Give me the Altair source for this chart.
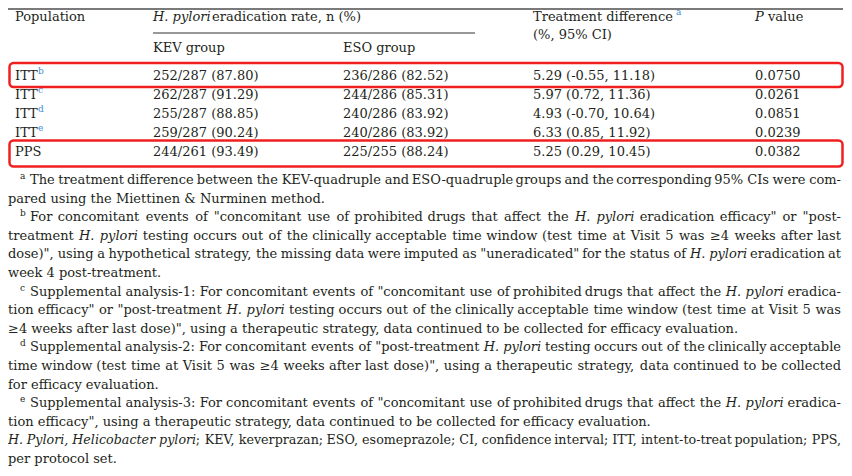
import altair as alt
import pandas as pd

FONT = "DejaVu Serif"
TEXT_COLOR = "#231f20"
SUP_COLOR = "#3b8fd6"
RED = "#f02020"

# ---------------- table values ----------------
populations = ["ITT", "ITT", "ITT", "ITT", "PPS"]
pop_marks = ["b", "c", "d", "e", ""]
kev_rates = ["252/287 (87.80)", "262/287 (91.29)", "255/287 (88.85)", "259/287 (90.24)", "244/261 (93.49)"]
eso_rates = ["236/286 (82.52)", "244/286 (85.31)", "240/286 (83.92)", "240/286 (83.92)", "225/255 (88.24)"]
differences = ["5.29 (-0.55, 11.18)", "5.97 (0.72, 11.36)", "4.93 (-0.70, 10.64)", "6.33 (0.85, 11.92)", "5.25 (0.29, 10.45)"]
p_values = ["0.0750", "0.0261", "0.0851", "0.0239", "0.0382"]

header_population = "Population"
header_rate_italic = "H. pylori"
header_rate_rest = "eradication rate, n (%)"
header_kev = "KEV group"
header_eso = "ESO group"
header_diff_1 = "Treatment difference"
header_diff_mark = "a"
header_diff_2 = "(%, 95% CI)"
header_p_italic = "P"
header_p_rest = "value"

# ---------------- footnotes ----------------
# each line: list of (text, style) pieces, n = normal, i = italic
footnote_markers = ["a", "", "b", "", "", "", "c", "", "", "d", "", "", "e", "", "", ""]
footnote_lines = [
    [("The treatment difference between the KEV-quadruple and ESO-quadruple groups and the corresponding 95% CIs were com-", "n")],
    [("pared using the Miettinen & Nurminen method.", "n")],
    [("For concomitant events of \"concomitant use of prohibited drugs that affect the ", "n"), ("H. pylori", "i"), (" eradication efficacy\" or \"post-", "n")],
    [("treatment ", "n"), ("H. pylori", "i"), (" testing occurs out of the clinically acceptable time window (test time at Visit 5 was \u22654 weeks after last", "n")],
    [("dose)\", using a hypothetical strategy, the missing data were imputed as \"uneradicated\" for the status of ", "n"), ("H. pylori", "i"), (" eradication at", "n")],
    [("week 4 post-treatment.", "n")],
    [("Supplemental analysis-1: For concomitant events of \"concomitant use of prohibited drugs that affect the ", "n"), ("H. pylori", "i"), (" eradica-", "n")],
    [("tion efficacy\" or \"post-treatment ", "n"), ("H. pylori", "i"), (" testing occurs out of the clinically acceptable time window (test time at Visit 5 was", "n")],
    [("\u22654 weeks after last dose)\", using a therapeutic strategy, data continued to be collected for efficacy evaluation.", "n")],
    [("Supplemental analysis-2: For concomitant events of \"post-treatment ", "n"), ("H. pylori", "i"), (" testing occurs out of the clinically acceptable", "n")],
    [("time window (test time at Visit 5 was \u22654 weeks after last dose)\", using a therapeutic strategy, data continued to be collected", "n")],
    [("for efficacy evaluation.", "n")],
    [("Supplemental analysis-3: For concomitant events of \"concomitant use of prohibited drugs that affect the ", "n"), ("H. pylori", "i"), (" eradica-", "n")],
    [("tion efficacy\", using a therapeutic strategy, data continued to be collected for efficacy evaluation.", "n")],
    [("H. Pylori, Helicobacter pylori", "i"), ("; KEV, keverprazan; ESO, esomeprazole; CI, confidence interval; ITT, intent-to-treat population; PPS,", "n")],
    [("per protocol set.", "n")],
]
justified = [True, False, True, True, True, False, True, True, False, True, True, False, True, False, True, False]

# ---------------- layout (page pixels) ----------------
FS = 13
SUP_FS = 9
COL_POP, COL_KEV, COL_ESO, COL_DIFF, COL_P = 15, 153, 343, 533, 755
ROW_Y = [76, 95, 114, 133, 152]
HEAD_Y1, HEAD_Y2 = 17, 35
FOOT_Y0, FOOT_STEP = 180, 18.6
FOOT_L, FOOT_R, MARK_X, FIRST_X = 8, 841, 20, 30

# approximate glyph advances (1/2048 em) used to spread words over justified lines
_W = {" ": 651, "!": 821, "\"": 942, "%": 1946, "&": 1597, "'": 563, "(": 799, ")": 799,
      ",": 651, "-": 739, ".": 651, "/": 690, ":": 690, ";": 690, "\u2265": 1716, "?": 1087,
      "A": 1520, "B": 1520, "C": 1540, "D": 1700, "E": 1450, "F": 1330, "G": 1700, "H": 1720,
      "I": 950, "J": 800, "K": 1550, "L": 1300, "M": 2000, "N": 1700, "O": 1700, "P": 1450,
      "Q": 1700, "R": 1560, "S": 1400, "T": 1350, "U": 1650, "V": 1520, "W": 2200, "X": 1520,
      "Y": 1400, "Z": 1450, "a": 1255, "b": 1300, "c": 1126, "d": 1300, "e": 1260, "f": 721,
      "g": 1300, "h": 1298, "i": 569, "j": 569, "k": 1186, "l": 569, "m": 1995, "n": 1298,
      "o": 1253, "p": 1300, "q": 1300, "r": 842, "s": 1067, "t": 803, "u": 1298, "v": 1212,
      "w": 1675, "x": 1212, "y": 1212, "z": 1075}
SPACE = _W[" "]


def est_width(text, style, fs):
    w = sum(_W.get(ch, 1303) for ch in text) * fs / 2048.0
    return w * (1.03 if style == "i" else 1.0)


def tokenize(pieces):
    words, cur = [], []
    for text, st in pieces:
        buf = ""
        for ch in text:
            if ch == " ":
                if buf:
                    cur.append((buf, st))
                    buf = ""
                if cur:
                    words.append(cur)
                    cur = []
            else:
                buf += ch
        if buf:
            cur.append((buf, st))
    if cur:
        words.append(cur)
    return words


rows = []


def add(text, x, y, kind, size=FS):
    rows.append({"text": text, "x": x, "y": y, "kind": kind, "size": size})


# header
add(header_population, COL_POP, HEAD_Y1, "nl")
add(header_rate_italic, COL_KEV, HEAD_Y1, "il")
add(header_rate_rest, 212, HEAD_Y1, "nl")
add(header_kev, COL_KEV, 48, "nl")
add(header_eso, COL_ESO, 48, "nl")
add(header_diff_1, COL_DIFF, HEAD_Y1, "nl")
add(header_diff_mark, 676, HEAD_Y1 - 5, "sb", SUP_FS)
add(header_diff_2, COL_DIFF, HEAD_Y2, "nl")
add(header_p_italic, COL_P, HEAD_Y1, "il")
add(header_p_rest, 768, HEAD_Y1, "nl")

# body
for i in range(len(populations)):
    y = ROW_Y[i]
    add(populations[i], COL_POP, y, "nl")
    if pop_marks[i]:
        add(pop_marks[i], 38, y - 5, "sb", SUP_FS)
    add(kev_rates[i], COL_KEV, y, "nl")
    add(eso_rates[i], COL_ESO, y, "nl")
    add(differences[i], COL_DIFF, y, "nl")
    add(p_values[i], COL_P, y, "nl")

# footnotes
for j, pieces in enumerate(footnote_lines):
    y = FOOT_Y0 + FOOT_STEP * j
    start = FOOT_L
    if footnote_markers[j]:
        add(footnote_markers[j], MARK_X, y - 4, "sk", SUP_FS)
        start = FIRST_X
    if not justified[j]:
        add(pieces[0][0], start, y, pieces[0][1] + "l")
        continue
    words = tokenize(pieces)
    n = len(words)
    fs = FS
    widths = [sum(est_width(t, s, fs) for t, s in w) for w in words]
    min_gap = 0.85 * SPACE * fs / 2048.0
    if FOOT_R - start - sum(widths) < min_gap * (n - 1):
        # squeeze the font slightly so that the line still fits
        fs = FS * (FOOT_R - start - min_gap * (n - 1)) / sum(widths)
        widths = [sum(est_width(t, s, fs) for t, s in w) for w in words]
    gap = (FOOT_R - start - sum(widths)) / (n - 1)
    x = start
    for k, (w, wd) in enumerate(zip(words, widths)):
        if len(w) == 1:
            t, s = w[0]
            if k == 0:
                add(t, x, y, s + "l", fs)
            elif k == n - 1:
                add(t, FOOT_R, y, s + "r", fs)
            else:
                add(t, x + wd / 2, y, s + "c", fs)
        else:
            off = 0.0
            for t, s in w:
                add(t, x + off, y, s + "l", fs)
                off += est_width(t, s, fs)
        x += wd + gap

texts = pd.DataFrame(rows)

xs = alt.Scale(domain=[8, 844], nice=False, zero=False)
ys = alt.Scale(domain=[8, 468], nice=False, zero=False, reverse=True)

base = alt.Chart(texts).encode(
    x=alt.X("x:Q", scale=xs, axis=None),
    y=alt.Y("y:Q", scale=ys, axis=None),
    text="text:N",
    size=alt.Size("size:Q", scale=None, legend=None),
)


def layer(kind, **kw):
    return base.transform_filter(alt.datum.kind == kind).mark_text(
        font=FONT, baseline="middle", **kw
    )


layers = []
for kind, al in [("nl", "left"), ("nc", "center"), ("nr", "right")]:
    layers.append(layer(kind, align=al, color=TEXT_COLOR))
for kind, al in [("il", "left"), ("ic", "center"), ("ir", "right")]:
    layers.append(layer(kind, align=al, color=TEXT_COLOR, fontStyle="italic"))
layers.append(layer("sb", align="left", color=SUP_COLOR))
layers.append(layer("sk", align="left", color=TEXT_COLOR))

# rules
rules_df = pd.DataFrame({
    "x": [8, COL_KEV],
    "x2": [843, 475],
    "y": [9, 33],
    "w": [2.2, 1.0],
    "c": ["#7a7a7a", "#333333"],
})
rules = alt.Chart(rules_df).mark_rule().encode(
    x=alt.X("x:Q", scale=xs, axis=None),
    x2="x2:Q",
    y=alt.Y("y:Q", scale=ys, axis=None),
    strokeWidth=alt.StrokeWidth("w:Q", scale=None, legend=None),
    color=alt.Color("c:N", scale=None, legend=None),
)

# red highlight boxes (around the ITT-b row and the PPS row)
box_df = pd.DataFrame({
    "x": [9.5, 9.5],
    "x2": [842.5, 842.5],
    "y": [63, 140.5],
    "y2": [87, 166.5],
})
boxes = alt.Chart(box_df).mark_rect(
    fill=None, stroke=RED, strokeWidth=2.5, cornerRadius=4
).encode(
    x=alt.X("x:Q", scale=xs, axis=None),
    x2="x2:Q",
    y=alt.Y("y:Q", scale=ys, axis=None),
    y2="y2:Q",
)

chart = alt.layer(rules, *layers, boxes).properties(
    width=836, height=460, autosize="none", padding=0, background="white"
).configure_view(stroke=None)

chart.save("out.html", embed_options={"renderer": "svg", "actions": False})
